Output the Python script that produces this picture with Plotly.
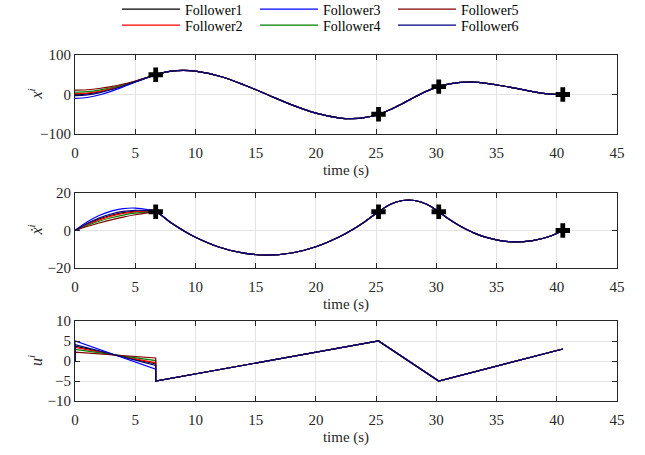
import plotly.graph_objects as go

# ---------------- data ----------------
names = ["Follower1", "Follower2", "Follower3", "Follower4", "Follower5", "Follower6"]
colors = ["#000000", "#ff0000", "#0000ff", "#008000", "#800000", "#000080"]
legend_row = ["legend", "legend2", "legend", "legend2", "legend", "legend2"]

# first phase (each follower differs), t in seconds
t_seg1 = [0, 1, 2, 3, 4, 5, 6]
x_f1 = [0.0, 1.74, 6.52, 13.68, 22.57, 32.52, 42.88]
x_f2 = [2.0, 3.62, 8.09, 14.83, 23.27, 32.83, 42.92]
x_f3 = [-10.0, -7.66, -1.34, 7.90, 19.01, 30.91, 42.57]
x_f4 = [6.0, 7.38, 11.24, 17.16, 24.72, 33.50, 43.07]
x_f5 = [11.0, 12.08, 15.16, 20.04, 26.49, 34.28, 43.21]
x_f6 = [-3.0, -1.08, 4.16, 11.95, 21.50, 32.03, 42.78]

v_f1 = [0.0, 3.37, 6.08, 8.13, 9.53, 10.26, 10.34]
v_f2 = [0.0, 3.14, 5.70, 7.69, 9.09, 9.92, 10.17]
v_f3 = [0.0, 4.51, 7.96, 10.35, 11.68, 11.96, 11.18]
v_f4 = [0.0, 2.69, 4.96, 6.81, 8.24, 9.25, 9.84]
v_f5 = [0.0, 2.12, 4.02, 5.70, 7.16, 8.40, 9.42]
v_f6 = [0.0, 3.71, 6.64, 8.80, 10.17, 10.77, 10.59]

# control at start / end of first phase
u_start = [3.70, 3.43, 5.04, 2.90, 2.23, 4.10]
u_end = [-0.72, -0.45, -2.05, 0.09, 0.76, -1.12]

# common trajectory after consensus
t_common = [6.7, 8, 9, 10, 12, 14, 16, 18, 20, 22, 23, 24, 25.2, 26.2, 27.2, 27.7,
            28.2, 29.2, 30.2, 31, 32, 33, 34, 36, 38, 39.5, 40.5]
x_common = [50, 58.97, 60.87, 59.01, 46.19, 24.82, -0.76, -26.23, -47.28, -59.56,
            -61.07, -58.76, -50, -37.83, -22.67, -14.58, -6.5, 8.67, 20, 26.47,
            30.66, 31.24, 29.0, 19.16, 7.33, 0.9, 0]
v_common = [10, 3.96, -0.07, -3.56, -8.91, -12.10, -13.12, -11.99, -8.69, -3.23,
            0.31, 4.39, 10, 14, 16, 16.25, 16, 14, 10, 6.25, 2.26, -0.96, -3.39,
            -5.94, -5.37, -2.91, 0]
t_u_common = [6.7, 25.2, 30.2, 40.5]
u_common = [-5, 5, -5, 3]

# waypoints
t_way = [6.7, 25.2, 30.2, 40.5]
x_way = [50, -50, 20, 0]
v_way = [10, 10, 10, 0]

y_titles = ["<i>x</i><sup><i>i</i></sup>",
            "<i>x\u0307</i><sup><i>i</i></sup>",
            "<i>u</i><sup><i>i</i></sup>"]

x_all = [x_f1, x_f2, x_f3, x_f4, x_f5, x_f6]
v_all = [v_f1, v_f2, v_f3, v_f4, v_f5, v_f6]

FONT = "'Liberation Serif', 'Times New Roman', Tinos, serif"
W, H = 645, 455

fig = go.Figure()

for i, name in enumerate(names):
    fig.add_trace(go.Scatter(
        x=t_seg1 + t_common, y=x_all[i] + x_common, mode="lines",
        line=dict(color=colors[i], width=1.2, shape="spline"),
        name=name, legend=legend_row[i], showlegend=True,
        xaxis="x", yaxis="y"))
    fig.add_trace(go.Scatter(
        x=t_seg1 + t_common, y=v_all[i] + v_common, mode="lines",
        line=dict(color=colors[i], width=1.2, shape="spline"),
        name=name, showlegend=False, xaxis="x2", yaxis="y2"))
    fig.add_trace(go.Scatter(
        x=[0, 0, t_u_common[0], t_u_common[0]] + t_u_common[1:],
        y=[0, u_start[i], u_end[i], u_common[0]] + u_common[1:], mode="lines",
        line=dict(color=colors[i], width=1.2),
        name=name, showlegend=False, xaxis="x3", yaxis="y3"))

marker = dict(symbol="cross", size=12, color="black", line=dict(width=0))
fig.add_trace(go.Scatter(x=t_way, y=x_way, mode="markers", marker=marker,
                         showlegend=False, xaxis="x", yaxis="y"))
fig.add_trace(go.Scatter(x=t_way, y=v_way, mode="markers", marker=marker,
                         showlegend=False, xaxis="x2", yaxis="y2"))


def dom(top_px, bot_px):
    return [1 - bot_px / H, 1 - top_px / H]


doms = [dom(55, 134), dom(193, 268), dom(321, 401)]

axcol = "#262626"
gridcol = "#e3e3e3"
xcommon = dict(range=[0, 45], dtick=5, tick0=0, showgrid=True, gridcolor=gridcol,
               zeroline=False, showline=True, linecolor=axcol, linewidth=1,
               mirror="ticks", ticks="inside", ticklen=5, tickcolor=axcol,
               automargin=False, ticklabelstandoff=5,
               tickfont=dict(family=FONT, size=15, color=axcol),
               title=dict(text="time (s)", font=dict(family=FONT, size=15, color=axcol),
                          standoff=4),
               domain=[0, 1])
ycommon = dict(showgrid=True, gridcolor=gridcol, zeroline=False, showline=True,
               linecolor=axcol, linewidth=1, mirror="ticks", ticks="inside",
               ticklen=5, tickcolor=axcol, automargin=False,
               tickfont=dict(family=FONT, size=15, color=axcol))

legend_common = dict(orientation="h", xref="container", yref="container",
                     x=117 / W, xanchor="left", yanchor="middle",
                     entrywidth=65, entrywidthmode="pixels", itemwidth=58,
                     font=dict(family=FONT, size=14, color="black"),
                     bgcolor="rgba(0,0,0,0)", borderwidth=0)

annotations = []
for k in range(3):
    annotations.append(dict(
        text=y_titles[k], xref="paper", yref="paper",
        x=(35 - 75) / 542, y=(doms[k][0] + doms[k][1]) / 2,
        xanchor="center", yanchor="middle", textangle=-90, showarrow=False,
        font=dict(family=FONT, size=16, color=axcol)))

fig.update_layout(
    width=W, height=H,
    margin=dict(l=75, r=28, t=0, b=0, autoexpand=False),
    paper_bgcolor="white", plot_bgcolor="white",
    font=dict(family=FONT, color=axcol),
    xaxis=dict(**xcommon, anchor="y"),
    xaxis2=dict(**xcommon, anchor="y2"),
    xaxis3=dict(**xcommon, anchor="y3"),
    yaxis=dict(**ycommon, range=[-100, 100], tickvals=[-100, 0, 100],
               domain=doms[0], anchor="x"),
    yaxis2=dict(**ycommon, range=[-20, 20], tickvals=[-20, 0, 20],
                domain=doms[1], anchor="x2"),
    yaxis3=dict(**ycommon, range=[-10, 10], tickvals=[-10, -5, 0, 5, 10],
                domain=doms[2], anchor="x3"),
    legend=dict(**legend_common, y=1 - 9.5 / H),
    legend2=dict(**legend_common, y=1 - 25.5 / H),
    annotations=annotations,
)

fig.write_html("out.html", config={"displayModeBar": False},
               post_script="document.body.style.margin='0px';")
